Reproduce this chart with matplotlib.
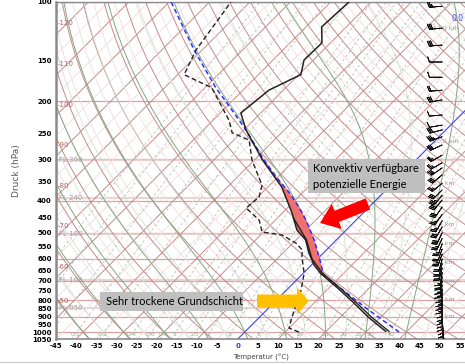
import numpy as np
import matplotlib.pyplot as plt
from matplotlib.patches import FancyArrow, Rectangle

# skew-T geometry
P0 = 1050.0
K = 35.3


def skew(t, p):
    return np.asarray(t, dtype=float) + K * np.log(P0 / np.asarray(p, dtype=float))


# sounding values
p_temp = [995, 900, 817, 740, 664, 627, 576, 526, 491, 436, 364, 301, 244, 217, 185, 166, 150, 133, 119, 100]
t_temp = [34.7, 26.8, 19.9, 12.6, 4.3, 0.7, -3.6, -7.6, -12.2, -17.6, -26.5, -38.0, -49.5, -54.9, -53.6, -49.5, -52.3, -52.1, -56.1, -55.5]

p_tv = [995, 900, 817, 740, 664, 600, 526, 450]
t_tv = [35.5, 27.6, 20.6, 13.2, 4.8, -1.4, -7.4, -16.2]

p_dew = [1000, 973, 901, 746, 663, 593, 564, 538, 508, 498, 458, 421, 390, 359, 301, 262, 249, 228, 182, 166, 140, 100]
t_dew = [13.4, 10.0, 8.0, 3.6, 0.2, -4.3, -6.0, -9.2, -14.7, -20.3, -24.0, -30.2, -29.7, -31.9, -40.6, -46.2, -52.2, -56.1, -68.3, -78.4, -81.5, -84.7]

p_parcel = [1000, 850, 672, 600, 526, 458, 418, 377, 339, 295, 244, 202, 182, 140, 100]
t_parcel = [38.2, 24.5, 5.5, 0.5, -5.5, -12.4, -17.4, -23.5, -30.4, -38.8, -49.5, -60.9, -67.3, -81.9, -99.5]

# wind profile (hPa, kt, deg)
p_wind = [103, 120, 135, 152, 169, 185, 198, 220, 236, 244, 256, 271, 291, 307, 318, 334, 354, 371, 385, 398,
          418, 440, 460, 480, 500, 520, 540, 560, 580, 600, 620, 640, 660, 680, 700, 720, 740, 760, 780, 800,
          820, 840, 860, 880, 900, 920, 940, 960, 980, 1000]
spd_wind = [25, 30, 30, 10, 10, 20, 30, 10, 10, 30, 35, 30, 25, 25, 30, 30, 25, 30, 35, 30,
            30, 25, 25, 30, 30, 25, 25, 20, 25, 20, 20, 20, 15, 20, 15, 15, 15, 15, 15, 15,
            10, 10, 15, 10, 10, 10, 10, 5, 10, 5]
dir_wind = [265, 265, 265, 270, 270, 265, 260, 265, 260, 255, 250, 245, 240, 240, 235, 230, 230, 225, 220, 220,
            215, 215, 210, 210, 205, 205, 200, 200, 200, 195, 195, 195, 190, 190, 190, 190, 185, 185, 185, 185,
            180, 180, 180, 180, 180, 175, 175, 175, 170, 170]

mix_ratios = [0.01, 0.02, 0.05, 0.1, 0.2, 0.4, 0.6, 0.8, 1, 1.5, 2, 3, 5, 7.5, 10, 15, 20, 25, 30, 40]
mix_labels = ["0.1", "0.2", "0.4", "0.6", "0.8", "1", "1.5", "2", "3", "5", "7.5", "10", "15", "20", "25", "30", "40"]
isotherm_labels = [-120, -110, -100, -90, -80, -70, -60, -50]
fl_levels = [843, 697, 506, 393, 301]
fl_names = ["FL 050", "FL 100", "FL 180", "FL 240", "FL 300"]
km_p = [899, 795, 701, 616, 540, 472, 356, 265, 120]
km_names = ["1.0 km", "2.0 km", "3.0 km", "4.0 km", "5.0 km", "6.0 km", "8.0 km", "10.0 km", "14.0 km"]

xticks = list(range(-45, 60, 5))
yticks = [100, 150, 200, 250, 300, 350, 400, 450, 500, 550, 600, 650, 700, 750, 800, 850, 900, 950, 1000, 1050]

W, H = 465, 364
fig = plt.figure(figsize=(W / 100, H / 100), dpi=100)
ax = fig.add_axes([56 / W, 25 / H, 409 / W, 337 / H])
XMIN, XMAX = -45, -45 + 409 / 4.04
ax.set_yscale('log')
ax.set_ylim(1050, 100)
ax.set_xlim(XMIN, XMAX)

pp = np.geomspace(1050, 100, 200)

# isobars and flight levels
for p in range(100, 1100, 100):
    ax.axhline(p, color='#d9a3a3', lw=0.9, zorder=1)
for p, name in zip(fl_levels, fl_names):
    ax.axhline(p, color='#ecc9c9', lw=1.2, zorder=1)
    ax.text(-44.3, p, name, fontsize=5, color='#a0a0a0', va='center', ha='left', zorder=3)

# isotherms
for t in range(-160, 60, 10):
    if t == 0:
        ax.plot(skew(t, pp), pp, color='#4040ff', lw=0.8, zorder=2)
    else:
        ax.plot(skew(t, pp), pp, color='#c58a8a', lw=0.7, zorder=1)
    ax.plot(skew(t + 5, pp), pp, color='#f1dcdc', lw=0.6, zorder=1)
for t in isotherm_labels:
    pc = P0 * np.exp((t + 45) / K)
    dy = 8 if t != -50 else 13
    ax.annotate(str(t), (XMIN, pc), xytext=(1.5, dy), textcoords='offset points',
                fontsize=5, color='#b06060', va='center', ha='left')

# dry adiabats
for th in range(-40, 230, 10):
    tk = (th + 273.15) * (pp / 1000.0) ** 0.2857 - 273.15
    ax.plot(skew(tk, pp), pp, color='#c58a8a', lw=0.7, zorder=1)
    tk2 = (th + 5 + 273.15) * (pp / 1000.0) ** 0.2857 - 273.15
    ax.plot(skew(tk2, pp), pp, color='#f1dcdc', lw=0.6, zorder=1)


# moist adiabats
def es(tc):
    return 6.112 * np.exp(17.67 * tc / (tc + 243.5))


def moist(tw):
    Rd, Cp, Lv, eps = 287.04, 1005.7, 2.501e6, 0.622

    def step(p, t, dp):
        tc = t - 273.15
        e = es(tc)
        rs = eps * e / (p - e)
        dtdp = (Rd * t + Lv * rs) / (p * (Cp + Lv ** 2 * rs * eps / (Rd * t ** 2)))
        return t + dtdp * dp

    ps_up = np.linspace(1000, 100, 451)
    ts = [tw + 273.15]
    for i in range(1, len(ps_up)):
        ts.append(step(ps_up[i - 1], ts[-1], ps_up[i] - ps_up[i - 1]))
    ps_dn = np.linspace(1000, 1050, 26)
    td = [tw + 273.15]
    for i in range(1, len(ps_dn)):
        td.append(step(ps_dn[i - 1], td[-1], ps_dn[i] - ps_dn[i - 1]))
    p_all = np.concatenate([ps_dn[::-1], ps_up[1:]])
    t_all = np.concatenate([np.array(td[::-1]), np.array(ts[1:])]) - 273.15
    return p_all, t_all


for tw in range(-40, 50, 10):
    pm, tm = moist(tw)
    ax.plot(skew(tm, pm), pm, color='#7fa77f', lw=0.7, zorder=1)
    pm, tm = moist(tw + 5)
    ax.plot(skew(tm, pm), pm, color='#cfe0cf', lw=0.6, zorder=1)

# mixing ratio lines
for w in mix_ratios:
    e = w * pp / (622.0 + w)
    lg = np.log(e / 6.112)
    td = 243.5 * lg / (17.67 - lg)
    ax.plot(skew(td, pp), pp, color='#b3c2b3', lw=0.6, ls=(0, (3, 3)), zorder=1)
for lab in mix_labels:
    w = float(lab)
    pl = 1017.0
    e = w * pl / (622.0 + w)
    lg = np.log(e / 6.112)
    td = 243.5 * lg / (17.67 - lg)
    ax.text(skew(td, pl), pl, lab, fontsize=4.5, color='#8fb08f', ha='center', va='center', zorder=3)

# CAPE shading
pf = np.geomspace(680, 290, 200)
lp = np.log(pf)
xt = np.interp(lp, np.log(p_temp[::-1]), skew(t_temp, p_temp)[::-1])
xp = np.interp(lp, np.log(p_parcel[::-1]), skew(t_parcel, p_parcel)[::-1])
ax.fill_betweenx(pf, xt, xp, where=xp > xt, color='#f07070', lw=0, zorder=3)

# profiles
ax.plot(skew(t_parcel, p_parcel), p_parcel, color='#2e2eff', lw=1.1, ls=(0, (3, 2)), zorder=4)
ax.plot(skew(t_tv, p_tv), p_tv, color='#222222', lw=1.0, zorder=5)
ax.plot(skew(t_temp, p_temp), p_temp, color='#222222', lw=1.1, zorder=5)
ax.plot(skew(t_dew, p_dew), p_dew, color='#222222', lw=1.0, ls=(0, (3.5, 2)), zorder=5)

# height labels and winds
for p, name in zip(km_p, km_names):
    ax.text(48.2, p, name, fontsize=4.5, color='#9a9a9a', va='center', ha='left', zorder=3)
ax.text(XMAX - 0.4, 112, "0.0", fontsize=5.5, color='#4040ff', ha='right', va='center', zorder=3)

wd = np.deg2rad(dir_wind)
u = -np.array(spd_wind) * np.sin(wd)
v = -np.array(spd_wind) * np.cos(wd)
ax.barbs(np.full(len(p_wind), 50.6), p_wind, u, v, length=4.3, lw=0.6, color='#111111', zorder=6)

# axes styling
ax.set_xticks(xticks)
ax.set_xticklabels([str(t) for t in xticks], fontsize=5, fontweight='bold')
for lab in ax.get_xticklabels():
    if lab.get_text() == '0':
        lab.set_color('#3030ff')
ax.set_yticks(yticks)
ax.set_yticklabels([str(p) for p in yticks], fontsize=5, fontweight='bold')
ax.minorticks_off()
ax.tick_params(length=0, pad=3)
ax.set_ylabel('Druck (hPa)', fontsize=6.5, color='#555555', labelpad=8)
ax.set_xlabel('Temperatur (°C)', fontsize=5, color='#444444', labelpad=3)
for s in ['left', 'bottom', 'top']:
    ax.spines[s].set_color('#8a8a8a')
ax.spines['left'].set_linewidth(1.8)
ax.spines['bottom'].set_linewidth(1.2)
ax.spines['top'].set_linewidth(1.0)
ax.spines['right'].set_visible(False)

# annotation overlay in pixel coordinates
ov = fig.add_axes([0, 0, 1, 1], zorder=10)
ov.set_xlim(0, W)
ov.set_ylim(H, 0)
ov.axis('off')
ov.patch.set_alpha(0)

ov.add_patch(Rectangle((308, 159), 117, 34, fc='#bfbfbf', ec='none'))
ov.text(313, 168, 'Konvektiv verfügbare', fontsize=8, family=['Lato', 'DejaVu Sans'], va='center', ha='left')
ov.text(313, 184, 'potenzielle Energie', fontsize=8, family=['Lato', 'DejaVu Sans'], va='center', ha='left')
ov.add_patch(FancyArrow(368, 204, -48, 19, width=12, head_width=27, head_length=18,
                        length_includes_head=True, color='#ff0000', lw=0))

ov.add_patch(Rectangle((100, 292), 143, 19, fc='#bfbfbf', ec='none'))
ov.text(106, 301.5, 'Sehr trockene Grundschicht', fontsize=8, family=['Lato', 'DejaVu Sans'], va='center', ha='left')
ov.add_patch(FancyArrow(257, 301, 52, 0, width=13, head_width=27, head_length=12,
                        length_includes_head=True, color='#ffc000', lw=0))
ov.plot([0, W], [362, 362], color='#d0d0d0', lw=1)

fig.savefig('out.png', dpi=100)
